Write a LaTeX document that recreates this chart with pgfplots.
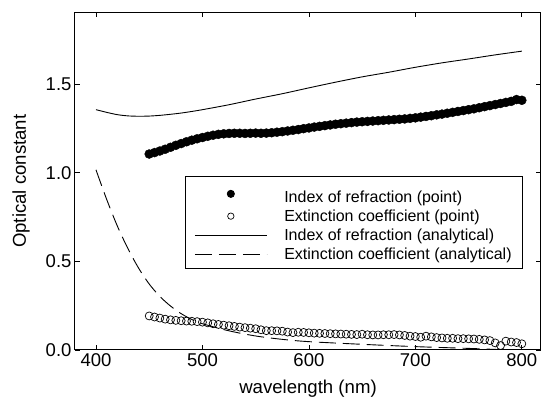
\documentclass[border=0pt]{standalone}
\usepackage{fontspec}
\setmainfont{Liberation Sans}
\usepackage{pgfplots}
\usepackage{pgfplotstable}
\pgfplotsset{compat=1.18}
\pgfplotsset{
  legmark/.style={legend image code/.code={\path (0pt,0pt) (87pt,0pt);\draw[##1,mark size=3.6pt] plot coordinates {(36pt,0pt)};}},
  legmarksmall/.style={legend image code/.code={\path (0pt,0pt) (87pt,0pt);\draw[##1,mark size=3.2pt] plot coordinates {(36pt,0pt)};}},
  legline/.style={legend image code/.code={\path (0pt,0pt) (87pt,0pt);\draw[##1] (0pt,0pt) -- (72pt,0pt);}},
}

\pgfplotstableread{
wl n
450 1.105
455 1.113
460 1.122
465 1.132
470 1.143
475 1.154
480 1.164
485 1.174
490 1.183
495 1.191
500 1.198
505 1.205
510 1.211
515 1.216
520 1.219
525 1.221
530 1.222
535 1.222
540 1.221
545 1.222
550 1.223
555 1.222
560 1.223
565 1.225
570 1.228
575 1.231
580 1.235
585 1.239
590 1.243
595 1.248
600 1.252
605 1.257
610 1.261
615 1.265
620 1.269
625 1.273
630 1.276
635 1.279
640 1.282
645 1.285
650 1.287
655 1.289
660 1.291
665 1.293
670 1.295
675 1.297
680 1.299
685 1.301
690 1.303
695 1.306
700 1.309
705 1.313
710 1.317
715 1.321
720 1.326
725 1.330
730 1.335
735 1.340
740 1.345
745 1.350
750 1.355
755 1.360
760 1.366
765 1.372
770 1.378
775 1.384
780 1.390
785 1.396
790 1.402
795 1.412
800 1.408
}\npoint

\pgfplotstableread{
wl k
450 0.192
455 0.186
460 0.180
465 0.174
470 0.170
475 0.167
480 0.165
485 0.163
490 0.162
495 0.160
500 0.157
505 0.153
510 0.148
515 0.144
520 0.140
525 0.137
530 0.133
535 0.129
540 0.126
545 0.123
550 0.120
555 0.114
560 0.109
565 0.109
570 0.108
575 0.106
580 0.101
585 0.098
590 0.100
595 0.099
600 0.097
605 0.095
610 0.094
615 0.093
620 0.092
625 0.091
630 0.090
635 0.089
640 0.088
645 0.087
650 0.089
655 0.086
660 0.085
665 0.085
670 0.086
675 0.086
680 0.087
685 0.085
690 0.082
695 0.078
700 0.076
705 0.072
710 0.078
715 0.074
720 0.070
725 0.068
730 0.066
735 0.066
740 0.064
745 0.064
750 0.063
755 0.062
760 0.060
765 0.057
770 0.053
775 0.040
780 0.025
785 0.050
790 0.045
795 0.042
800 0.035
}\kpoint

\pgfplotstableread{
wl n
400 1.355
410 1.340
420 1.327
430 1.320
440 1.318
450 1.319
460 1.323
470 1.329
480 1.336
490 1.345
500 1.355
525 1.383
550 1.415
575 1.445
600 1.478
625 1.510
650 1.540
675 1.566
700 1.594
725 1.619
750 1.641
775 1.664
800 1.685
}\nana

\pgfplotstableread{
wl k
400 1.016
410 0.850
420 0.700
430 0.572
440 0.462
450 0.372
460 0.302
470 0.248
480 0.205
490 0.172
500 0.148
525 0.108
550 0.079
575 0.060
600 0.047
650 0.032
700 0.019
750 0.009
780 0.002
800 -0.004
}\kana

\begin{document}
\begin{tikzpicture}
\begin{axis}[
  scale only axis, width=466pt, height=337.5pt,
  xmin=380.3, xmax=818, ymin=0, ymax=1.903,
  xtick={400,500,...,800}, ytick={0,0.5,1,1.5},
  yticklabel style={/pgf/number format/fixed, /pgf/number format/fixed zerofill, /pgf/number format/precision=1},
  /pgf/number format/assume math mode=true,
  tick align=inside, major tick length=5pt,
  tick style={black, line width=0.8pt},
  axis line style={line width=1pt},
  ticklabel style={font=\fontsize{18.5}{21}\selectfont},
  xlabel={wavelength (nm)}, ylabel={Optical constant},
  label style={font=\fontsize{18.6}{21}\selectfont},
  xlabel style={at={(axis description cs:0.5,-0.114)}, anchor=center},
  ylabel style={at={(axis description cs:-0.116,0.5)}, anchor=center},
  clip=true,
  legend cell align=left,
  legend style={at={(0.236,0.5164)}, anchor=north west, draw=black, line width=0.8pt,
    font=\fontsize{16}{18}\selectfont, inner xsep=9pt, inner ysep=6pt, row sep=2pt},
]
\addplot[only marks, mark=*, mark size=4.5pt, fill=black, draw=black, legmark]
  table[x=wl,y=n] {\npoint};
\addlegendentry{\rule{0pt}{18pt}Index of refraction (point)}
\addplot[only marks, mark=o, mark size=4pt, draw=black, line width=0.7pt, legmarksmall]
  table[x=wl,y=k] {\kpoint};
\addlegendentry{Extinction coefficient (point)}
\addplot[black, line width=0.9pt, smooth, legline]
  table[x=wl,y=n] {\nana};
\addlegendentry{Index of refraction (analytical)}
\addplot[black, line width=0.9pt, smooth, dash pattern=on 17pt off 7pt, legline]
  table[x=wl,y=k] {\kana};
\addlegendentry{Extinction coefficient (analytical)}
\end{axis}
\pgfresetboundingbox
\path (-75pt,-53pt) rectangle (467pt,350pt);
\end{tikzpicture}
\end{document}
